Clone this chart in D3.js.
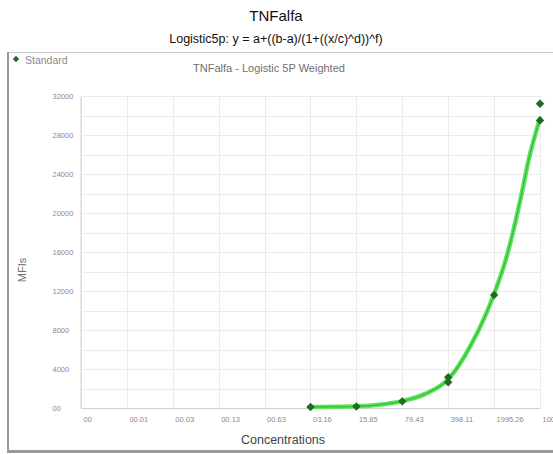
<!DOCTYPE html>
<html>
<head>
<meta charset="utf-8">
<script src="https://cdn.jsdelivr.net/npm/d3@7"></script>
<style>
  html, body { margin: 0; padding: 0; background: #fff; }
  svg { display: block; font-family: Arial, "Liberation Sans", sans-serif; }
</style>
</head>
<body>
<svg id="chart" width="553" height="454"></svg>
<script>
// Standard curve readings (concentration, MFI)
const stdConc = [3.16, 15.85, 79.43, 398.11, 398.11, 1995.26, 10000, 10000];
const stdMfi  = [100, 150, 680, 3150, 2650, 11600, 31200, 29500];

// Fitted 5P logistic curve, sampled along the concentration axis
const fitConc = [3.16, 7.1, 15.85, 35.5, 79.43, 178, 398.11, 891, 1995.26, 3034, 5260, 6637, 10000];
const fitMfi  = [100, 125, 170, 330, 700, 1450, 2950, 6500, 11700, 15300, 22000, 25300, 29700];

// Axis ticks
const xTickValues = [0.001, 0.005012, 0.025119, 0.125893, 0.630957, 3.16, 15.85, 79.43, 398.11, 1995.26, 10000];
const xTickLabels = ["00", "00.01", "00.03", "00.13", "00.63", "03.16", "15.85", "79.43", "398.11", "1995.26", "10000.00"];
const yTickValues = [0, 4000, 8000, 12000, 16000, 20000, 24000, 28000, 32000];
const yTickLabels = ["00", "4000", "8000", "12000", "16000", "20000", "24000", "28000", "32000"];
const yGridValues = d3.range(0, 32001, 2000);

const svg = d3.select("#chart");
const W = 553, H = 454;

const x = d3.scaleLog().domain([0.001, 10000]).range([81, 540]);
const y = d3.scaleLinear().domain([0, 32000]).range([408, 96]);

// Titles
svg.append("text").attr("x", 276).attr("y", 21).attr("text-anchor", "middle")
  .attr("font-size", 15).attr("fill", "#111").text("TNFalfa");
svg.append("text").attr("x", 276).attr("y", 43).attr("text-anchor", "middle")
  .attr("font-size", 12.5).attr("fill", "#111").text("Logistic5p: y = a+((b-a)/(1+((x/c)^d))^f)");

// Chart frame
svg.append("line").attr("x1", 8).attr("x2", W).attr("y1", 52.5).attr("y2", 52.5)
  .attr("stroke", "#c8c8c8").attr("stroke-width", 1);
svg.append("line").attr("x1", 8).attr("x2", 8).attr("y1", 52).attr("y2", 452)
  .attr("stroke", "#9a9a9a").attr("stroke-width", 2);
svg.append("line").attr("x1", 7).attr("x2", W).attr("y1", 451.5).attr("y2", 451.5)
  .attr("stroke", "#999").attr("stroke-width", 3);

// Diamond marker: a square turned 45 degrees
const diamond = s => d3.symbol(d3.symbolSquare, s)();

// Legend (text top tucked under the frame edge)
const defs = svg.append("defs");
defs.append("clipPath").attr("id", "legendClip")
  .append("rect").attr("x", 9).attr("y", 55.5).attr("width", 200).attr("height", 20);
const legend = svg.append("g");
legend.append("path").attr("d", diamond(20))
  .attr("transform", "translate(16,59) rotate(45)").attr("fill", "#1f6b22");
legend.append("text").attr("x", 25).attr("y", 63.5).attr("font-size", 10.5)
  .attr("clip-path", "url(#legendClip)")
  .attr("fill", "#8a8a8a").text("Standard");

// Inner title
svg.append("text").attr("x", 269).attr("y", 72).attr("text-anchor", "middle")
  .attr("font-size", 11).attr("fill", "#707070").text("TNFalfa - Logistic 5P Weighted");

// Grid
const grid = svg.append("g");
grid.selectAll(".hg").data(yGridValues).join("line")
  .attr("x1", 81).attr("x2", 540)
  .attr("y1", d => Math.round(y(d)) + 0.5).attr("y2", d => Math.round(y(d)) + 0.5)
  .attr("stroke", "#ebebeb").attr("stroke-width", 1);
grid.selectAll(".vg").data(xTickValues).join("line")
  .attr("x1", d => Math.round(x(d)) + 0.5).attr("x2", d => Math.round(x(d)) + 0.5)
  .attr("y1", 96).attr("y2", 408)
  .attr("stroke", "#ebebeb").attr("stroke-width", 1);

// Axes
const xAxis = svg.append("g").attr("transform", "translate(0,408)")
  .call(d3.axisBottom(x).tickValues(xTickValues)
    .tickFormat((d, i) => xTickLabels[i]).tickSize(0).tickPadding(9));
xAxis.select(".domain").attr("stroke", "#d0d0d0");
xAxis.selectAll("text").attr("text-anchor", "start").attr("dx", 2)
  .attr("font-size", 7.5).attr("fill", "#8a8a8a").attr("font-family", null);

const yAxis = svg.append("g").attr("transform", "translate(80.5,0)")
  .call(d3.axisLeft(y).tickValues(yTickValues)
    .tickFormat((d, i) => yTickLabels[i]).tickSize(0));
yAxis.select(".domain").attr("stroke", "#d0d0d0");
yAxis.selectAll("text").attr("text-anchor", "start").attr("x", -28)
  .attr("font-size", 7.5).attr("fill", "#8a8a8a").attr("font-family", null);

// Axis titles
svg.append("text").attr("transform", "translate(26,270) rotate(-90)")
  .attr("text-anchor", "middle").attr("font-size", 11).attr("fill", "#707070").text("MFIs");
svg.append("text").attr("x", 283).attr("y", 444).attr("text-anchor", "middle")
  .attr("font-size", 12.5).attr("fill", "#444").text("Concentrations");

// Fitted curve
const fit = fitConc.map((c, i) => [c, fitMfi[i]]);
const line = d3.line().x(d => x(d[0])).y(d => y(d[1])).curve(d3.curveMonotoneX);
svg.append("path").datum(fit).attr("d", line).attr("fill", "none")
  .attr("stroke", "#5fe35f").attr("stroke-width", 4.5).attr("stroke-linecap", "round");
svg.append("path").datum(fit).attr("d", line).attr("fill", "none")
  .attr("stroke", "#2fb834").attr("stroke-width", 1.4).attr("opacity", 0.8);

// Standard points
const pts = stdConc.map((c, i) => [c, stdMfi[i]]);
svg.selectAll(".pt").data(pts).join("path")
  .attr("d", diamond(36))
  .attr("transform", d => `translate(${x(d[0])},${y(d[1])}) rotate(45)`)
  .attr("fill", "#1f6b22");
</script>
</body>
</html>
